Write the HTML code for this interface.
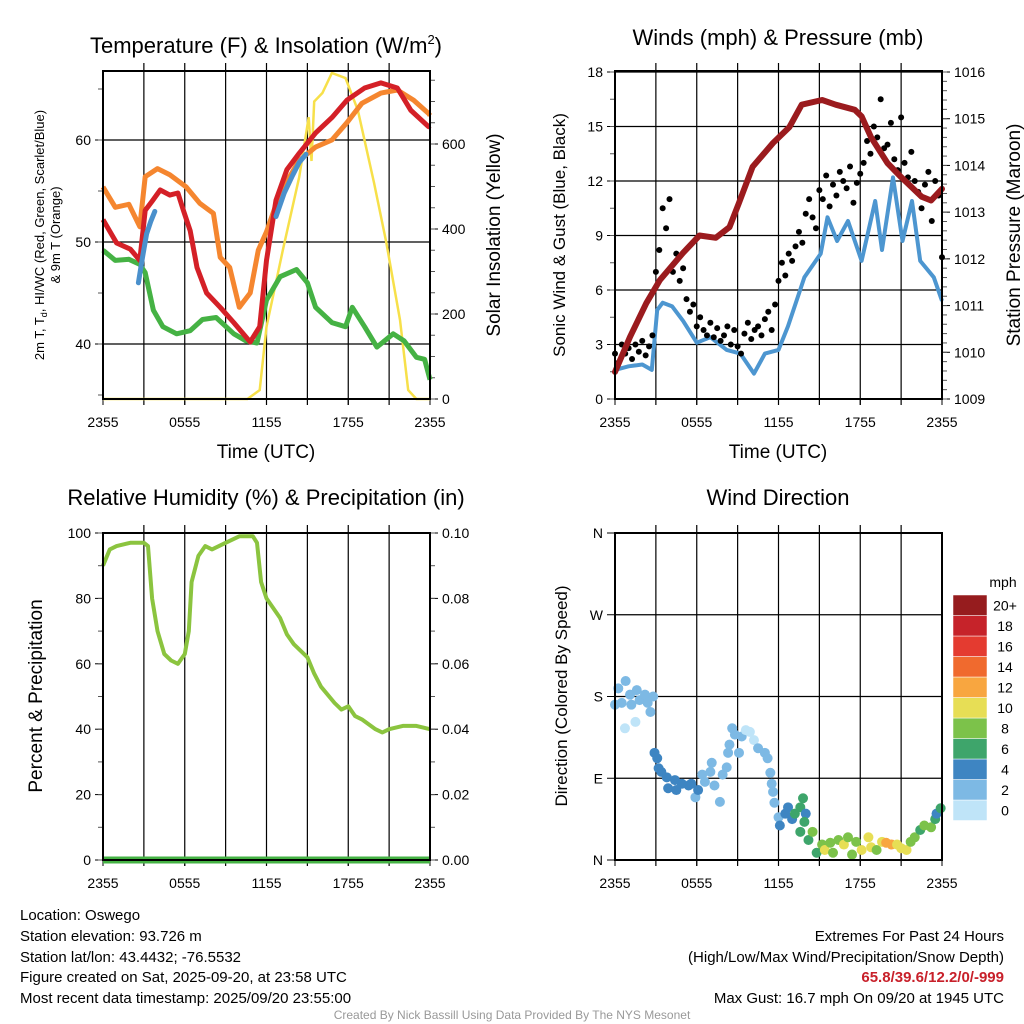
<!DOCTYPE html>
<html><head><meta charset="utf-8"><style>
html,body{margin:0;padding:0;background:#fff;}
svg{display:block;font-family:"Liberation Sans",Arial,sans-serif;}
</style></head><body>
<svg id="chart" width="1024" height="1024" viewBox="0 0 1024 1024" xmlns="http://www.w3.org/2000/svg">
<rect width="1024" height="1024" fill="#fff"/>
<g id="g1"></g>
<g id="g2"></g>
<g id="g3"></g>
<g id="g4"></g>
<g font-size="15" fill="#000">
<text x="20" y="920">Location: Oswego</text>
<text x="20" y="941">Station elevation: 93.726 m</text>
<text x="20" y="962">Station lat/lon: 43.4432; -76.5532</text>
<text x="20" y="982">Figure created on Sat, 2025-09-20, at 23:58 UTC</text>
<text x="20" y="1003">Most recent data timestamp: 2025/09/20 23:55:00</text>
</g>
<g font-size="15" text-anchor="end">
<text x="1004" y="941">Extremes For Past 24 Hours</text>
<text x="1004" y="962">(High/Low/Max Wind/Precipitation/Snow Depth)</text>
<text x="1004" y="982" fill="#c8202a" font-weight="bold">65.8/39.6/12.2/0/-999</text>
<text x="1004" y="1003">Max Gust: 16.7 mph On 09/20 at 1945 UTC</text>
</g>
<text x="512" y="1019" font-size="12" fill="#999" text-anchor="middle">Created By Nick Bassill Using Data Provided By The NYS Mesonet</text>
</svg>
<script>
// ---------- DATA ----------
const xTickLabels = ["2355","0555","1155","1755","2355"];
const xTickHours = [0,6,12,18,24];
// Temperature panel
const redT = [0,1,2,2.7,3.1,3.6,4.2,4.9,5.5,5.9,6.4,6.9,7.6,8.6,9.6,10.8,11.5,12,12.7,13.5,14.4,15.6,16.8,17.9,19.2,20.4,21.6,22.6,23.9,24];
const redV = [52.2,49.9,49.3,48.2,53.1,54.0,55.1,54.6,54.8,53.1,51.1,47.5,45.0,43.6,42.1,40.2,41.7,48.2,54.1,57.1,58.7,60.7,62.2,63.9,65.1,65.6,65.1,62.9,61.3,61.4];
const orangeT = [0,0.9,1.9,2.7,3.1,4.0,4.9,6.1,7.1,8.1,8.6,9.3,10.0,10.8,11.4,12,13,14.4,15.6,16.8,17.9,19,20.4,21.6,22.8,23.9,24];
const orangeV = [55.4,53.4,53.7,51.5,56.4,57.2,56.6,55.4,53.8,52.8,48.5,47.5,43.6,45.0,49.2,51.0,54.8,58.0,59.3,60.0,61.7,63.6,64.6,64.9,63.9,62.6,62.4];
const greenT = [0,0.9,1.9,2.7,3.1,3.7,4.4,5.4,6.4,7.3,8.3,9.6,10.5,11.3,12,13,14.2,15,15.6,16.8,17.8,18.3,19.2,20.1,21.3,22.1,23,23.6,24];
const greenV = [49.2,48.2,48.3,47.8,47.0,43.3,41.7,41.0,41.3,42.4,42.6,41.0,40.3,40.1,44.3,46.6,47.3,46.0,43.6,42.1,41.7,43.6,41.7,39.7,41.0,40.3,38.7,38.5,36.5];
const blueT1 = [2.6,2.9,3.2,3.5,3.8];
const blueV1 = [46.0,48.5,50.8,52.0,53.0];
const blueT2 = [12.7,13.3,13.9,14.4,14.9];
const blueV2 = [52.5,54.8,56.5,57.8,58.6];
const solarT = [0,10.6,11.5,12,13.2,14.4,15.1,15.3,15.5,16.1,16.8,17.8,18.7,19.9,20.8,21.8,22.4,23,24];
const solarV = [0,0,21,170,350,522,663,560,700,720,767,755,680,508,367,186,21,0,0];
// Winds panel
const windT = [0,1.0,2.0,2.7,3.1,3.5,4.2,5.0,6.0,7.0,8.2,9.2,10.2,11,12,12.7,13.9,15.1,15.6,16.3,17.1,18.1,19.1,19.6,20.4,21.1,21.8,22.4,23.4,24];
const windV = [1.6,1.8,1.9,1.6,4.9,5.3,5.1,4.3,3.1,3.4,2.7,2.5,1.4,2.5,2.7,4.0,6.7,8.0,10.0,8.7,9.8,7.6,10.9,8.2,12.2,8.7,10.9,7.6,6.7,5.4];
const presT = [0,1.1,2.3,3.3,5.0,6.2,7.4,8.4,9.1,10.1,11.6,12.8,13.7,15.2,16.2,17.6,18.1,18.8,20.0,21.0,22.5,23.2,24];
const presV = [1009.58,1010.33,1011.05,1011.55,1012.13,1012.5,1012.45,1012.68,1013.2,1013.97,1014.48,1014.82,1015.3,1015.4,1015.3,1015.19,1015.05,1014.6,1014.05,1013.75,1013.33,1013.25,1013.5];
const gustV = [2.5,2.0,3.0,2.5,2.8,2.2,3.0,2.6,3.2,2.4,2.9,3.5,
 7.0,8.2,10.5,9.4,11.0,7.0,8.0,6.5,7.2,
 5.5,4.8,5.2,
 4.0,4.5,3.8,3.5,4.2,3.4,3.9,3.2,
 3.5,4.0,3.0,3.8,2.9,2.5,3.6,4.2,
 3.3,3.8,4.0,3.5,4.4,4.8,3.8,5.2,
 6.5,7.5,6.8,8.0, 7.6,8.4,9.2,8.6, 10.2,11.0,10.0,9.4, 11.5,11.0,12.3,10.6,
 11.8,11.2,12.5,12.0, 11.6,12.8,10.8,11.9, 12.4,13.0,14.2,13.5, 15.0,14.4,16.5,13.8,
 14.0,15.2,13.2,12.6, 15.5,13.0,12.2,13.6, 12.0,11.4,10.5,11.8, 12.5,9.8,12.0,11.2,7.8];
const gustStepHours = 0.25;
// Humidity panel
const rhT = [0,0.5,1,2,3,3.3,3.6,4,4.5,5,5.5,6,6.3,6.5,7,7.5,8,9,10,11,11.3,11.6,12,13,13.5,14,15,15.5,16,17,17.5,18,18.5,19,20,20.5,21,22,23,24];
const rhV = [90,95,96,97,97,96,80,70,63,61,60,63,70,85,93,96,95,97,99,99,97,85,80,74,69,66,62,57,53,48,46,47,44,43,40,39,40,41,41,40];
const precipT = [0,24];
const precipV = [0,0];
// Wind direction panel
const wdT = [0,0.24,0.78,0.49,0.73,1.1,1.2,1.5,1.6,1.8,2.2,2.4,2.6,2.8,2.9,3.1,3.2,3.4,3.8,3.9,4.4,4.5,4.9,5.4,5.6,5.9,6.1,6.4,6.6,7.0,7.1,7.3,7.7,7.9,8.2,8.3,8.4,8.6,8.8,9.1,9.3,9.6,9.9,10.2,10.5,11.0,11.2,11.4,11.5,11.6,11.7,12.0,12.1,12.5,12.7,13.0,13.2,13.6,13.8,14.0,13.9,13.6,14.2,14.5,14.8,15.2,15.4,15.8,16.0,16.4,16.8,17.1,17.4,17.7,18.1,18.6,18.8,19.2,19.6,19.9,20.3,20.7,21.0,21.4,21.7,22.0,22.4,22.7,23.2,23.5,23.6,23.9];
const wdDir = [171,189,197,173,145,182,171,152,187,176,182,173,163,180,118,112,101,97,91,79,88,77,84,82,84,69,77,94,86,97,107,82,64,94,102,118,127,145,138,118,136,143,141,132,123,118,112,96,84,75,63,47,38,51,58,45,51,58,68,51,42,31,22,31,8,17,11,19,8,22,17,25,6,20,11,25,14,11,20,19,17,17,13,11,20,25,33,38,36,45,51,57];
const wdSpd = [3,3,3,2,1,3,3,1,3,3,3,3,2,3,5,5,5,5,5,5,5,5,5,5,5,3,5,3,3,3,3,3,3,3,3,3,3,3,3,3,3,1,1,1,3,3,3,3,3,3,3,3,5,5,5,5,7,7,7,5,7,7,7,9,7,9,11,9,9,9,11,9,9,9,11,11,11,9,11,13,13,11,11,11,9,9,7,9,9,7,5,7];
const cbLabels = ["0","2","4","6","8","10","12","14","16","18","20+"];
const cbColors = ["#bfe4f8","#7db9e4","#3e85c2","#3ea56b","#7cc24a","#e7de55","#f8a640","#f06a2e","#e43b30","#c6232a","#961c1e"];

// ---------- HELPERS ----------
const NS = "http://www.w3.org/2000/svg";
function mk(parent, tag, attrs, text){
  const e = document.createElementNS(NS, tag);
  for (const k in attrs) e.setAttribute(k, attrs[k]);
  if (text !== undefined) e.textContent = text;
  parent.appendChild(e); return e;
}
function lin(d0,d1,r0,r1){ return v => r0 + (v-d0)/(d1-d0)*(r1-r0); }
function pathD(ts, vs, sx, sy){ return ts.map((t,i)=>(i?"L":"M")+sx(t).toFixed(1)+","+sy(vs[i]).toFixed(1)).join(""); }

function frame(g, L, T, R, B, sx){
  for (let h=3; h<24; h+=3){
    const l = mk(g,"line",{x1:sx(h),x2:sx(h),y1:T-8,y2:B+6,stroke:"#000","stroke-width":1.2});
    
    
  }
  xTickHours.forEach((h,i)=>{
    mk(g,"line",{x1:sx(h),x2:sx(h),y1:B,y2:B+6,stroke:"#000","stroke-width":1});
    const t = mk(g,"text",{x:sx(h),y:B+28,"font-size":14,"text-anchor":"middle"},xTickLabels[i]);
    
    
  });
}
function border(g,L,T,R,B){
  const r = mk(g,"rect",{x:L,y:T,width:R-L,height:B-T,fill:"none",stroke:"#000","stroke-width":2});
  
  
}
function yAxis(g, x, side, ticks, labels, sy, minor, T, B, gridL, gridR){
  const dir = side==="left" ? -1 : 1;
  ticks.forEach((v,i)=>{
    const y = sy(v);
    if (gridL!==undefined){
      const gl = mk(g,"line",{x1:gridL,x2:gridR,y1:y,y2:y,stroke:"#000","stroke-width":1.2});
      
      
    }
    mk(g,"line",{x1:x,x2:x+dir*8,y1:y,y2:y,stroke:"#000","stroke-width":1});
    const t = mk(g,"text",{x:x+dir*12,y:y+5,"font-size":14,"text-anchor":side==="left"?"end":"start"},labels[i]);
    
    
  });
  minor.forEach(v=>{ const y=sy(v); if(y>=T-0.5&&y<=B+0.5) mk(g,"line",{x1:x,x2:x+dir*5,y1:y,y2:y,stroke:"#555","stroke-width":1}); });
}
function title(g,x,y,txt,name,size){
  const t = mk(g,"text",{x:x,y:y,"font-size":size||22,"text-anchor":"middle"},txt);
  
  
  return t;
}
function vtitle(g,x,y,txt,name,size){
  const t = mk(g,"text",{x:0,y:0,"font-size":size||18,"text-anchor":"middle",transform:`translate(${x},${y}) rotate(-90)`},txt);
  
  
  return t;
}
function range(a,b,s){ const r=[]; for(let v=a; v<=b+1e-9; v+=s) r.push(+v.toFixed(3)); return r; }

// ---------- PANEL 1 ----------
(function(){
  const g = document.getElementById("g1");
  const L=103,R=430,T=71,B=399;
  const sx = lin(0,24,L,R), sy = lin(40,60,344,140), sSol = lin(0,600,399,144);
  frame(g,L,T,R,B,sx);
  yAxis(g,L,"left",[40,50,60],["40","50","60"],sy,range(35,65,5),T,B,L,R);
  yAxis(g,R,"right",[0,200,400,600],["0","200","400","600"],sSol,range(0,750,50),T,B);
  const ys = mk(g,"path",{d:pathD(solarT,solarV,sx,sSol),fill:"none",stroke:"#f7e04a","stroke-width":2.5});
  
  
  const o = mk(g,"path",{d:pathD(orangeT,orangeV,sx,sy),fill:"none",stroke:"#f5862f","stroke-width":5,"stroke-linejoin":"round"});
  
  
  const gr = mk(g,"path",{d:pathD(greenT,greenV,sx,sy),fill:"none",stroke:"#45b244","stroke-width":5,"stroke-linejoin":"round"});
  
  
  const r = mk(g,"path",{d:pathD(redT,redV,sx,sy),fill:"none",stroke:"#d42027","stroke-width":5,"stroke-linejoin":"round"});
  
  
  [[blueT1,blueV1],[blueT2,blueV2]].forEach(p=>{
    const b = mk(g,"path",{d:pathD(p[0],p[1],sx,sy),fill:"none",stroke:"#4a90cc","stroke-width":5,"stroke-linecap":"round"});
    
    
  });
  border(g,L,T,R,B);
  const tt = title(g,266,53,"Temperature (F) & Insolation (W/m","temp-panel-title");
  mk(tt,"tspan",{dy:-9,"font-size":13},"2");
  mk(tt,"tspan",{dy:9},")");
  title(g,266,458,"Time (UTC)","x-axis-title",19);
  const yl = mk(g,"text",{transform:"translate(44,235) rotate(-90)","font-size":13,"text-anchor":"middle"});
  
  
  mk(yl,"tspan",{},"2m T, T");
  mk(yl,"tspan",{"font-size":9,dy:3},"d");
  mk(yl,"tspan",{dy:-3},", HI/WC (Red, Green, Scarlet/Blue)");
  const yl2 = mk(g,"text",{transform:"translate(60,235) rotate(-90)","font-size":13,"text-anchor":"middle"},"& 9m T (Orange)");
  
  
  vtitle(g,500,235,"Solar Insolation (Yellow)","solar-y-axis-title",19);
})();

// ---------- PANEL 2 ----------
(function(){
  const g = document.getElementById("g2");
  const L=615,R=942,T=71,B=399;
  const sx = lin(0,24,L,R), sy = lin(0,18,399,72), sp = lin(1009,1016,399,72);
  frame(g,L,T,R,B,sx);
  yAxis(g,L,"left",[0,3,6,9,12,15,18],["0","3","6","9","12","15","18"],sy,range(0,18,1.5),T,B,L,R);
  yAxis(g,R,"right",[1009,1010,1011,1012,1013,1014,1015,1016],["1009","1010","1011","1012","1013","1014","1015","1016"],sp,range(1009,1016,0.2),T,B);
  const b = mk(g,"path",{d:pathD(windT,windV,sx,sy),fill:"none",stroke:"#4d96d0","stroke-width":4,"stroke-linejoin":"round"});
  
  
  gustV.forEach((v,i)=>{
    const c = mk(g,"circle",{cx:sx(i*gustStepHours),cy:sy(v),r:3,fill:"#000"});
    
    
  });
  const p = mk(g,"path",{d:pathD(presT,presV,sx,sp),fill:"none",stroke:"#9b1b1e","stroke-width":6,"stroke-linejoin":"round","stroke-linecap":"round"});
  
  
  border(g,L,T,R,B);
  title(g,778,45,"Winds (mph) & Pressure (mb)","winds-panel-title");
  title(g,778,458,"Time (UTC)","x-axis-title",19);
  vtitle(g,565,235,"Sonic Wind & Gust (Blue, Black)","wind-y-axis-title",17);
  vtitle(g,1020,235,"Station Pressure (Maroon)","pressure-y-axis-title",19);
})();

// ---------- PANEL 3 ----------
(function(){
  const g = document.getElementById("g3");
  const L=103,R=430,T=533,B=860;
  const sx = lin(0,24,L,R), sy = lin(0,100,860,533), spr = lin(0,0.1,860,533);
  frame(g,L,T,R,B,sx);
  yAxis(g,L,"left",[0,20,40,60,80,100],["0","20","40","60","80","100"],sy,range(0,100,10),T,B);
  yAxis(g,R,"right",[0,0.02,0.04,0.06,0.08,0.1],["0.00","0.02","0.04","0.06","0.08","0.10"],spr,range(0,0.1,0.01),T,B);
  const pr = mk(g,"path",{d:pathD(precipT,precipV,sx,spr),fill:"none",stroke:"#45b244","stroke-width":7});
  
  
  const rh = mk(g,"path",{d:pathD(rhT,rhV,sx,sy),fill:"none",stroke:"#8bc43f","stroke-width":4,"stroke-linejoin":"round"});
  
  
  border(g,L,T,R,B);
  title(g,266,505,"Relative Humidity (%) & Precipitation (in)","humidity-panel-title");
  vtitle(g,42,696,"Percent & Precipitation","humidity-y-axis-title",19);
})();

// ---------- PANEL 4 ----------
(function(){
  const g = document.getElementById("g4");
  const L=615,R=942,T=533,B=860;
  const sx = lin(0,24,L,R), sy = lin(0,360,860,533);
  frame(g,L,T,R,B,sx);
  yAxis(g,L,"left",[0,90,180,270,360],["N","E","S","W","N"],sy,[],T,B,L,R);
  const cIdx = s => Math.min(10, Math.max(0, Math.floor(s/2)));
  wdT.forEach((t,i)=>{
    const c = mk(g,"circle",{cx:sx(t),cy:sy(wdDir[i]),r:5,fill:cbColors[cIdx(wdSpd[i])]});
    
    
  });
  border(g,L,T,R,B);
  title(g,778,505,"Wind Direction","wind-direction-title");
  vtitle(g,567,696,"Direction (Colored By Speed)","direction-y-axis-title",17);
  const cb = mk(document.getElementById("chart"),"g",{});
  
  
  const cbTop=595, cbH=20.5, cbX=953, cbW=34;
  const n = cbLabels.length;
  cbLabels.forEach((lab,i)=>{
    const y = cbTop + (n-1-i)*cbH;
    const r = mk(cb,"rect",{x:cbX,y:y,width:cbW,height:cbH,fill:cbColors[i],stroke:"#fff","stroke-width":0.5});
    
    
    const t = mk(cb,"text",{x:1005,y:y+cbH/2+5,"font-size":14,"text-anchor":"middle"},lab);
    
    
  });
  const u = mk(cb,"text",{x:1003,y:587,"font-size":14,"text-anchor":"middle"},"mph");
  
  
})();
</script>
</body></html>
